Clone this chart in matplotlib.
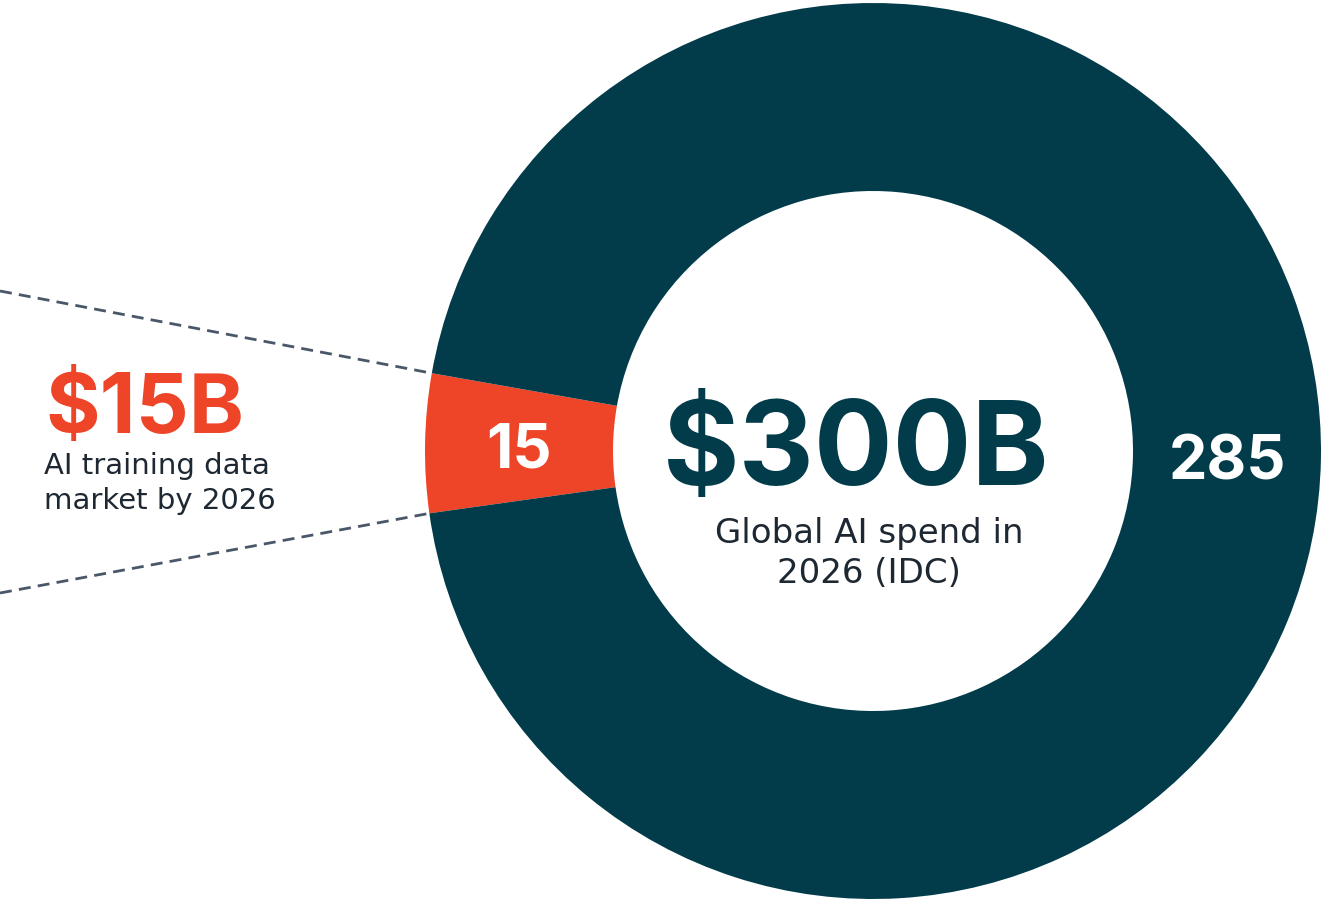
import numpy as np
import matplotlib
matplotlib.use('Agg')
import matplotlib.pyplot as plt

# data
segments = ['AI training data', 'Other AI spend']
values = [15, 285]
seg_labels = ['15', '285']
total_label = '$300B'
total_caption = ['Global AI spend in', '2026 (IDC)']
part_label = '$15B'
part_caption = ['AI training data', 'market by 2026']

DARK = '#023C4A'
ORANGE = '#EE4427'
TEXT = '#1E2832'
LINE = '#4A5768'

plt.rcParams['font.family'] = ['Inter', 'DejaVu Sans']

W, H = 1325, 900
fig = plt.figure(figsize=(W / 100, H / 100), dpi=100)
ax = fig.add_axes([0, 0, 1, 1])

cx, cy = 873, H - 451
r_out, r_in = 448, 260

wedges, texts = ax.pie(
    values, colors=[ORANGE, DARK], startangle=170, counterclock=True,
    center=(cx, cy), radius=r_out, labels=seg_labels,
    labeldistance=(r_out + r_in) / 2 / r_out,
    wedgeprops=dict(width=r_out - r_in, linewidth=0),
    textprops=dict(color='white', fontsize=44, fontweight='bold',
                   ha='center', va='center_baseline'),
)

ax.set_xlim(0, W)
ax.set_ylim(0, H)
ax.set_aspect('equal')
ax.axis('off')

# dashed guide lines from the small slice's outer corners to the left edge
w = wedges[0]
left_ys = [H - 291, H - 593]
for ang, ly in zip([w.theta1, w.theta2], left_ys):
    ex = cx + r_out * np.cos(np.radians(ang))
    ey = cy + r_out * np.sin(np.radians(ang))
    ax.plot([0, ex], [ly, ey], color=LINE, lw=2, dashes=(4.3, 2.6),
            solid_capstyle='butt', zorder=0)

# centre text
ax.text(856, H - 485, total_label, color=DARK, fontsize=84, fontweight='bold',
        ha='center', va='baseline')
for i, line in enumerate(total_caption):
    ax.text(869, H - 543 - 40 * i, line, color=TEXT, fontsize=24.5,
            family='DejaVu Sans', ha='center', va='baseline')

# left annotation
ax.text(45, H - 433, part_label, color=ORANGE, fontsize=60, fontweight='bold',
        ha='left', va='baseline')
for i, line in enumerate(part_caption):
    ax.text(44, H - 474 - 35 * i, line, color=TEXT, fontsize=21,
            family='DejaVu Sans', ha='left', va='baseline')

fig.savefig('out.png', dpi=100)
